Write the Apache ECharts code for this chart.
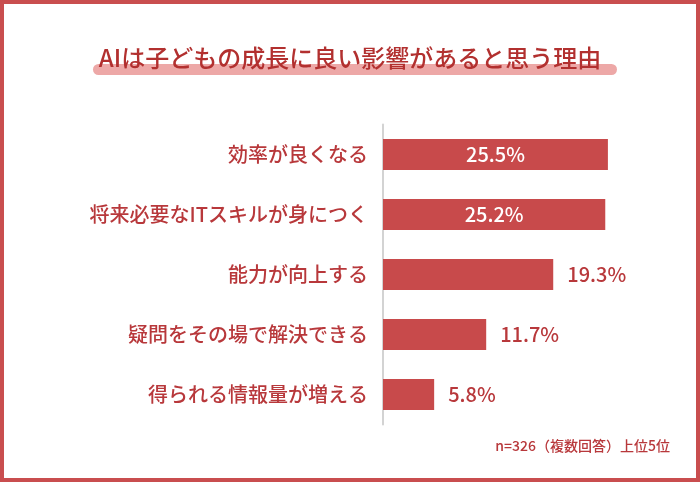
<!DOCTYPE html>
<html>
<head>
<meta charset="utf-8">
<script src="https://cdn.jsdelivr.net/npm/echarts@6/dist/echarts.min.js"></script>
<style>
  html, body { margin: 0; padding: 0; background: #fff; }
  #chart { width: 700px; height: 482px; }
</style>
</head>
<body>
<div id="chart"></div>
<script>
// data
const categories = [
    '効率が良くなる',
    '将来必要なITスキルが身につく',
    '能力が向上する',
    '疑問をその場で解決できる',
    '得られる情報量が増える'
];
const values = [25.5, 25.2, 19.3, 11.7, 5.8];

const titleText = 'AIは子どもの成長に良い影響があると思う理由';
const noteText = 'n=326（複数回答）上位5位';

const barColor = '#c84a4b';
const textColor = '#b8383b';
const font = '"Noto Sans CJK JP", "Noto Sans", sans-serif';

const chart = echarts.init(document.getElementById('chart'));

// long bars get the label inside, short ones outside
const seriesData = values.map(v => ({
    value: v,
    label: v > 22
        ? { position: 'inside', color: '#ffffff' }
        : { position: 'right', color: textColor, distance: 14 }
}));

chart.setOption({
    animation: false,
    title: {
        text: titleText,
        left: 'center',
        top: 41,
        textStyle: {
            fontFamily: font,
            fontSize: 24,
            fontWeight: 500,
            color: '#b2302f'
        }
    },
    graphic: [
        {
            type: 'rect',
            z: 0,
            shape: { x: 2, y: 2, width: 696, height: 478 },
            style: { fill: 'none', stroke: '#c94e4f', lineWidth: 4 }
        },
        {
            type: 'rect',
            z: 0,
            shape: { x: 93, y: 64, width: 524, height: 11, r: 6 },
            style: { fill: '#eda8a7' }
        },
        {
            type: 'text',
            right: 30,
            top: 439,
            style: {
                text: noteText,
                font: '500 14px ' + font,
                fill: textColor
            }
        }
    ],
    grid: {
        left: 383,
        right: 52.4,
        top: 124.5,
        height: 300
    },
    xAxis: {
        type: 'value',
        min: 0,
        max: 30,
        show: false
    },
    yAxis: {
        type: 'category',
        inverse: true,
        data: categories,
        axisLine: { show: true, lineStyle: { color: '#d3d3d3', width: 2 } },
        axisTick: { show: false },
        axisLabel: {
            margin: 15,
            fontFamily: font,
            fontSize: 20,
            fontWeight: 500,
            color: textColor
        }
    },
    series: [
        {
            type: 'bar',
            data: seriesData,
            barWidth: 31,
            itemStyle: { color: barColor },
            label: {
                show: true,
                fontFamily: font,
                fontSize: 20,
                fontWeight: 500,
                formatter: p => p.value.toFixed(1) + '%'
            }
        }
    ]
});
</script>
</body>
</html>
